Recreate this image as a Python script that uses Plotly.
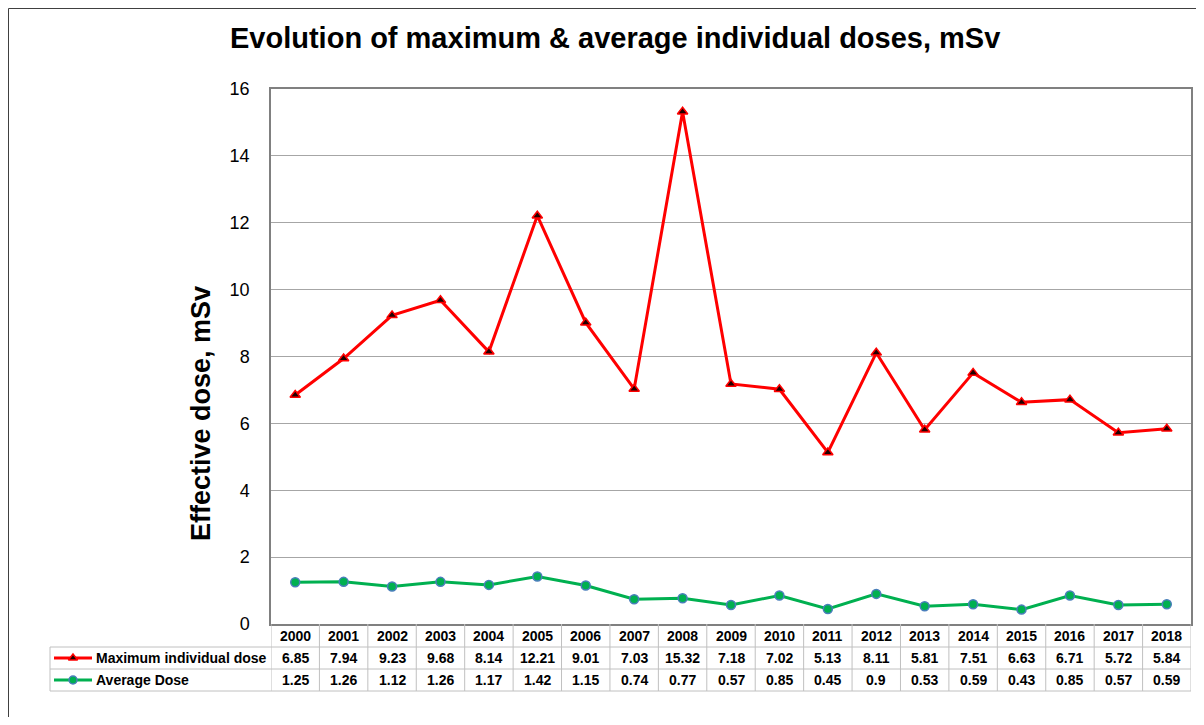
import plotly.graph_objects as go

years = [str(y) for y in range(2000, 2019)]
max_dose = [6.85, 7.94, 9.23, 9.68, 8.14, 12.21, 9.01, 7.03, 15.32, 7.18,
            7.02, 5.13, 8.11, 5.81, 7.51, 6.63, 6.71, 5.72, 5.84]
avg_dose = [1.25, 1.26, 1.12, 1.26, 1.17, 1.42, 1.15, 0.74, 0.77, 0.57,
            0.85, 0.45, 0.9, 0.53, 0.59, 0.43, 0.85, 0.57, 0.59]
series_names = ["Maximum individual dose", "Average Dose"]
title_text = "Evolution of maximum & average individual doses, mSv"
y_title = "Effective dose, mSv"
y_ticks = [0, 2, 4, 6, 8, 10, 12, 14, 16]

# page body has an 8px default margin; size the figure to fit the window
OFF = 8
W, H = 1204 - 2 * OFF, 725 - 2 * OFF
FONT = "Liberation Sans, Arial, sans-serif"
RED = "#ff0000"
GREEN = "#00b050"


def px(x):
    return (x - OFF) / W


def py(y):
    return 1 - (y - OFF) / H


# layout geometry (window pixels)
PL, PR, PT, PB = 271, 1191, 89, 624
ROW_Y = [624, 647, 669, 691]
TABLE_L = 50

n = len(years)
xi = list(range(n))

fig = go.Figure()
fig.add_trace(go.Scatter(
    x=xi, y=max_dose, mode="lines+markers", name=series_names[0],
    line=dict(color=RED, width=3),
    marker=dict(symbol="triangle-up", size=9, color="#200000",
                line=dict(color=RED, width=1.5)),
    showlegend=False, cliponaxis=False))
fig.add_trace(go.Scatter(
    x=xi, y=avg_dose, mode="lines+markers", name=series_names[1],
    line=dict(color=GREEN, width=3),
    marker=dict(symbol="circle", size=9, color=GREEN,
                line=dict(color="#4a7ebb", width=1.5)),
    showlegend=False, cliponaxis=False))

# legend keys inside the table (pixel-space helper axes)
key_x0, key_x1 = 54, 92
for i, (col, sym, fill, edge) in enumerate([
        (RED, "triangle-up", "#200000", RED),
        (GREEN, "circle", GREEN, "#4a7ebb")]):
    yc = (ROW_Y[i + 1] + ROW_Y[i + 2]) / 2
    fig.add_trace(go.Scatter(
        x=[key_x0, key_x1], y=[yc, yc], mode="lines",
        line=dict(color=col, width=3), xaxis="x2", yaxis="y2",
        showlegend=False, hoverinfo="skip"))
    fig.add_trace(go.Scatter(
        x=[(key_x0 + key_x1) / 2], y=[yc], mode="markers",
        marker=dict(symbol=sym, size=8, color=fill, line=dict(color=edge, width=1.5)),
        xaxis="x2", yaxis="y2", showlegend=False, hoverinfo="skip", cliponaxis=False))

shapes = []
GRID = "#a6a6a6"
TL = "#c0c0c0"
# outer frame
shapes.append(dict(type="rect", xref="paper", yref="paper", layer="below",
                   x0=0.5 / W, x1=px(1230), y0=1 - 0.5 / H, y1=py(760),
                   line=dict(color="#404040", width=1)))
# table horizontal lines
shapes.append(dict(type="line", xref="paper", yref="paper",
                   x0=px(TABLE_L), x1=px(PR), y0=py(ROW_Y[1]), y1=py(ROW_Y[1]),
                   line=dict(color=TL, width=1)))
for ry in ROW_Y[2:]:
    shapes.append(dict(type="line", xref="paper", yref="paper",
                       x0=px(TABLE_L), x1=px(PR), y0=py(ry), y1=py(ry),
                       line=dict(color=TL, width=1)))
shapes.append(dict(type="line", xref="paper", yref="paper",
                   x0=px(TABLE_L), x1=px(TABLE_L), y0=py(ROW_Y[1]), y1=py(ROW_Y[3]),
                   line=dict(color=TL, width=1)))
# table vertical lines at category boundaries
for k in range(n + 1):
    shapes.append(dict(type="line", xref="x", yref="paper",
                       x0=k - 0.5, x1=k - 0.5, y0=py(ROW_Y[0]), y1=py(ROW_Y[3]),
                       line=dict(color=TL, width=1)))

annotations = []
TF = dict(family=FONT, size=14, color="black")
for i in range(n):
    for r, val in enumerate([years[i], max_dose[i], avg_dose[i]]):
        annotations.append(dict(
            x=i, y=py((ROW_Y[r] + ROW_Y[r + 1]) / 2), xref="x", yref="paper",
            xanchor="center", yanchor="middle",
            text="<b>%s</b>" % val, showarrow=False, font=TF))
for j, nm in enumerate(series_names):
    annotations.append(dict(x=px(94), y=py((ROW_Y[j + 1] + ROW_Y[j + 2]) / 2),
                            xref="paper", yref="paper", xanchor="left", yanchor="middle",
                            text="<b>%s</b>" % nm, showarrow=False, font=TF))
annotations.append(dict(x=px(201), y=py(414), xref="paper", yref="paper",
                        xanchor="center", yanchor="middle",
                        text="<b>%s</b>" % y_title, textangle=-90, showarrow=False,
                        font=dict(family=FONT, size=27, color="black")))
annotations.append(dict(x=px(615), y=py(38), xref="paper", yref="paper",
                        xanchor="center", yanchor="middle",
                        text="<b>%s</b>" % title_text, showarrow=False,
                        font=dict(family=FONT, size=29, color="black")))

fig.update_layout(
    width=W, height=H, autosize=False,
    margin=dict(l=0, r=0, t=0, b=0, pad=0, autoexpand=False),
    paper_bgcolor="white", plot_bgcolor="rgba(0,0,0,0)",
    xaxis=dict(domain=[px(PL), px(PR)], range=[-0.5, n - 0.5], automargin=False,
               showticklabels=False, showgrid=False, zeroline=False,
               showline=True, linecolor="#808080", linewidth=1.5, mirror=True, ticks=""),
    yaxis=dict(domain=[py(PB), py(PT)], range=[0, 16], tickvals=y_ticks, automargin=False,
               showgrid=True, gridcolor=GRID, gridwidth=1, zeroline=False,
               showline=True, linecolor="#808080", linewidth=1.5, mirror=True,
               ticks="", ticklabelstandoff=16,
               tickfont=dict(family=FONT, size=18, color="black")),
    xaxis2=dict(domain=[0, 1], range=[OFF, OFF + W], visible=False, anchor="y2",
                automargin=False, fixedrange=True),
    yaxis2=dict(domain=[0, 1], range=[OFF + H, OFF], visible=False, anchor="x2",
                automargin=False, fixedrange=True),
    shapes=shapes, annotations=annotations,
    showlegend=False,
)

fig.write_html("out.html")
